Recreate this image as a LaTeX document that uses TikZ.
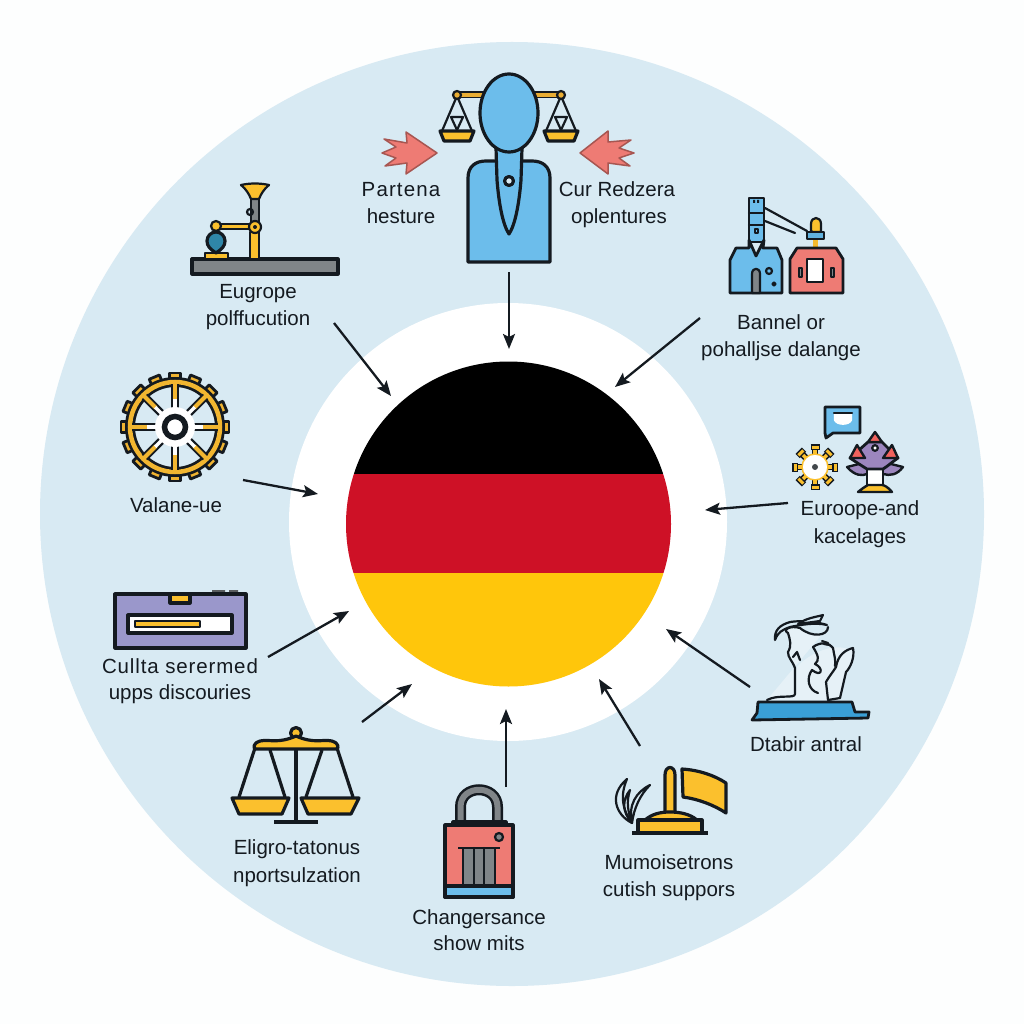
\documentclass[tikz,border=0pt]{standalone}
\usepackage{fontspec}
\setmainfont{Liberation Sans}
\usetikzlibrary{arrows.meta}
\definecolor{pagewhite}{HTML}{FDFEFE}
\definecolor{disc}{HTML}{D8EAF3}
\definecolor{ink}{HTML}{141A20}
\definecolor{sky}{HTML}{6CBDEB}
\definecolor{gold}{HTML}{FBC02D}
\definecolor{coral}{HTML}{EE7B74}
\definecolor{slate}{HTML}{808588}
\definecolor{violet}{HTML}{9A97CB}
\definecolor{lilac}{HTML}{9C86BE}
\definecolor{sea}{HTML}{3A9FD6}
\definecolor{teal}{HTML}{2F86A8}
\definecolor{flagred}{HTML}{CE1126}
\definecolor{flaggold}{HTML}{FFC60B}
\tikzset{
  caption/.style={font=\fontsize{20.5}{24}\selectfont, text=ink, inner sep=0pt, anchor=base},
  pointer/.style={draw=ink, line width=2.3pt, -{Stealth[length=15pt,width=12pt,inset=3pt]}},
  icon/.style={draw=ink, line width=3.2pt, line join=round},
  thin icon/.style={draw=ink, line width=2.2pt, line join=round, line cap=round}
}
\begin{document}
\begin{tikzpicture}[x=1pt,y=-1pt]
\useasboundingbox (0,0) rectangle (1024,1024);
\fill[pagewhite] (0,0) rectangle (1024,1024);
\fill[disc] (512,514) circle[radius=472];
\fill[white] (508,522) circle[radius=219];

% Tricolour roundel
\begin{scope}
  \clip (508.5,524) circle[radius=162.5];
  \fill[black] (340,355) rectangle (680,474);
  \fill[flagred] (340,474) rectangle (680,573);
  \fill[flaggold] (340,573) rectangle (680,695);
\end{scope}
\node[circle, minimum size=325pt, inner sep=0pt] (flag) at (508.5,524) {};

% Figure with balance
\draw[line width=7pt, draw=ink] (457,95) -- (561,95);
\draw[line width=3.5pt, draw=gold!70!brown] (457,95) -- (561,95);
\foreach \px/\sgn in {457/1,561/-1}{
  \draw[thin icon] (\px-15,131) -- (\px,96) -- (\px+15,131);
  \draw[thin icon] (\px-6,117) -- (\px,130) -- (\px+6,117) -- cycle;
  \draw[icon, fill=gold] (\px-17,131) -- (\px+17,131) -- (\px+13,141) -- (\px-13,141) -- cycle;
  \draw[thin icon, fill=gold!70!brown] (\px,95) circle[radius=4];
}
\draw[icon, fill=sky] (468,262) -- (468,178) .. controls (468,166) and (476,161) .. (486,161)
  -- (532,161) .. controls (542,161) and (550,166) .. (550,178) -- (550,262) -- cycle;
\draw[icon, fill=sky] (496,148) -- (497,180) .. controls (499,205) and (503,225) .. (509,234)
  .. controls (515,225) and (519,205) .. (521,180) -- (522,148) -- cycle;
\draw[icon, fill=sky] (509,113) ellipse[x radius=29, y radius=39];
\draw[icon, fill=disc] (509,181) circle[radius=4.5];

% Red arrows beside the figure
\draw[thin icon, draw=coral!70!black, fill=coral, line width=1.5pt] (437,153) -- (406,132) -- (407,143) -- (384,139)
  -- (396,147) -- (382,153) -- (396,158) -- (385,166) -- (407,163) -- (406,174) -- cycle;
\draw[thin icon, draw=coral!70!black, fill=coral, line width=1.5pt] (580,153) -- (608,131) -- (608,142) -- (631,140)
  -- (619,148) -- (634,153) -- (619,158) -- (630,166) -- (608,163) -- (608,174) -- cycle;

% Machine on a slab
\draw[icon, fill=slate] (192,259) rectangle (338,274);
\draw[thin icon, fill=gold] (205,253) rectangle (228,259);
\draw[icon, fill=teal] (216,253) .. controls (210,249) and (207,246) .. (207,241)
  .. controls (207,236) and (211,232) .. (216,232) .. controls (221,232) and (225,236) .. (225,241)
  .. controls (225,246) and (222,249) .. (216,253) -- cycle;
\draw[thin icon, fill=gold] (250,232) rectangle (259,259);
\draw[thin icon, fill=gold] (216,224) rectangle (250,229);
\draw[thin icon, fill=gold] (216,226) circle[radius=5];
\draw[thin icon, fill=slate] (251,199) rectangle (259,222);
\draw[thin icon] (250,212) circle[radius=3];
\draw[thin icon, fill=gold] (255,227) circle[radius=6];
\fill[ink] (255,227) circle[radius=2];
\draw[thin icon, fill=gold] (241,185) .. controls (250,183) and (260,183) .. (269,185)
  .. controls (264,189) and (261,194) .. (259,199) -- (251,199)
  .. controls (249,194) and (246,189) .. (241,185) -- cycle;

% Tower and house
\draw[thin icon] (765,208) -- (807,231);
\draw[thin icon] (765,221) -- (795,233);
\draw[thin icon, fill=sky, line width=2.6pt] (749,198) rectangle (764,242);
\draw[thin icon] (749,213) -- (764,213) (749,225) -- (764,225);
\draw[thin icon, line width=1.5pt] (755,229) rectangle (758,233);
\fill[ink] (753,200) rectangle (755,203) (757,200) rectangle (759,203);
\draw[icon, fill=sky, line width=2.8pt] (730,293) -- (730,260) -- (736,248) -- (749,248) -- (749,240) -- (756,256) -- (764,240) -- (763,248)
  -- (777,248) -- (782,260) -- (782,293) -- cycle;
\draw[thin icon, fill=slate] (752,293) -- (752,274) .. controls (752,267) and (760,267) .. (760,274) -- (760,293) -- cycle;
\draw[thin icon] (769,271) circle[radius=3];
\draw[thin icon] (774,284) circle[radius=1.5];
\draw[thin icon, fill=gold] (813,232) -- (811,231) -- (811,224) .. controls (811,216) and (821,216) .. (821,224) -- (821,232) -- cycle;
\fill[gold!90!brown] (813,239) rectangle (818,250);
\draw[thin icon, fill=sea!80!white] (807,232) rectangle (824,239);
\draw[icon, fill=coral, line width=2.8pt] (790,293) -- (790,259) -- (797,248) -- (836,248) -- (843,259) -- (843,293) -- cycle;
\draw[icon, fill=white, line width=2.8pt] (807,259) rectangle (823,282);
\draw[thin icon, fill=slate] (799,268) rectangle (802,277);
\draw[thin icon, fill=slate] (831,268) rectangle (834,277);

% Speech bubble, cog and rocket
\draw[icon, fill=sky, line width=2.8pt] (825,407) -- (860,407) -- (860,433) -- (833,433) -- (826,438) -- (825,433) -- cycle;
\draw[thin icon, fill=white, draw=white] (835,414) -- (851,414) -- (851,420) .. controls (849,425) and (837,425) .. (835,420) -- cycle;
\draw[thin icon] (834,413) -- (852,413);
\begin{scope}[shift={(815,467)}]
  \foreach \a in {0,45,...,315}{
    \begin{scope}[rotate=\a]
      \draw[draw=ink, line width=6.5pt] (0,0) -- (19,0);
      \draw[draw=gold, line width=3.5pt] (0,0) -- (19,0);
      \draw[draw=ink, line width=6pt] (20,-4.5) -- (20,4.5);
      \draw[draw=gold, line width=3pt] (20,-3.5) -- (20,3.5);
    \end{scope}
  }
  \fill[white] (0,0) circle[radius=13];
  \draw[draw=gold, line width=1.5pt] (0,0) circle[radius=13];
  \fill[ink!80!white] (0,0) circle[radius=3];
\end{scope}
\draw[icon, fill=lilac, line width=2.4pt] (847,467) .. controls (855,476) and (862,476) .. (867,474) -- (883,474)
  .. controls (890,476) and (897,475) .. (903,467) -- (883,462) -- (867,462) -- cycle;
\draw[icon, fill=white, line width=2.4pt] (867,468) rectangle (883,486);
\draw[icon, fill=lilac, line width=2.8pt] (850,458) -- (868,442) -- (882,442) -- (898,458) .. controls (892,462) and (888,466) .. (883,469)
  -- (867,469) .. controls (862,466) and (856,462) .. (850,458) -- cycle;
\draw[icon, fill=coral!80!red, line width=2.4pt] (875,432) -- (868,442) -- (882,442) -- cycle;
\draw[icon, fill=coral!80!red, line width=2.4pt] (857,445) -- (850,458) -- (865,458) -- cycle;
\draw[icon, fill=coral!80!red, line width=2.4pt] (892,445) -- (883,458) -- (898,458) -- cycle;
\draw[thin icon, fill=white] (875,448) circle[radius=2.8];
\draw[icon, fill=gold, line width=2.4pt] (858,492) .. controls (864,487) and (868,485) .. (868,485) -- (882,485)
  .. controls (884,485) and (888,487) .. (892,492) -- cycle;

% Spoked wheel
\begin{scope}[shift={(175,427)}]
  \foreach \a in {0,22.5,...,337.5}{
    \begin{scope}[rotate=\a]
      \draw[icon, fill=gold!80!brown, line width=2.8pt] (-5.5,-54) rectangle (5.5,-44);
    \end{scope}
  }
  \draw[draw=ink, line width=10pt] (0,0) circle[radius=45];
  \draw[draw=gold!85!brown, line width=4.5pt] (0,0) circle[radius=45];
  \foreach \a in {0,45,...,315}{
    \draw[draw=ink, line width=8pt] (0:0) -- (\a:43);
    \draw[draw=gold!85!brown, line width=4pt] (\a:27) -- (\a:45);
    \draw[draw=white, line width=3.5pt] (\a:15) -- (\a:28);
  }
  \fill[white] (0,0) circle[radius=20];
  \draw[draw=ink, line width=5.5pt] (0,0) circle[radius=10.5];
\end{scope}

% Card slot
\fill[slate!70!black] (212,590) rectangle (225,594) (229,590) rectangle (238,594);
\draw[icon, fill=violet] (115,594) rectangle (246,648);
\draw[icon, fill=gold] (170,594) rectangle (190,603);
\draw[icon, fill=white] (128,615) rectangle (232,633);
\draw[thin icon, fill=gold] (135,621) rectangle (200,627);

% Standing scales
\draw[icon] (296,750) -- (296,822);
\draw[icon] (274,822) -- (318,822);
\draw[icon] (255,748) -- (239,797);
\draw[icon] (270,750) -- (285,797);
\draw[icon] (322,750) -- (306,797);
\draw[icon] (337,748) -- (353,797);
\draw[icon, fill=gold] (296,733) circle[radius=5.5];
\draw[icon, fill=gold] (256,749) .. controls (252,749) and (254,742) .. (260,741)
  .. controls (270,739) and (278,744) .. (296,736) .. controls (314,744) and (322,739) .. (332,741)
  .. controls (338,742) and (340,749) .. (336,749) -- cycle;
\draw[icon, fill=gold] (232,798) -- (289,798) -- (282,814) -- (239,814) -- cycle;
\draw[icon, fill=gold] (301,798) -- (359,798) -- (351,814) -- (308,814) -- cycle;

% Padlock
\draw[draw=ink, line width=11pt] (460.5,822) -- (460.5,807) .. controls (460.5,784) and (497.5,784) .. (497.5,807) -- (497.5,822);
\draw[draw=slate, line width=6pt] (460.5,822) -- (460.5,807) .. controls (460.5,784) and (497.5,784) .. (497.5,807) -- (497.5,822);
\draw[icon, fill=slate!60!black] (453,822) rectangle (506,825);
\draw[icon, fill=coral] (445,825) rectangle (513,897);
\draw[icon, fill=sky] (445,886) rectangle (513,897);
\draw[thin icon, fill=slate] (463,848) rectangle (495,885);
\draw[thin icon] (474,848) -- (474,885) (484,848) -- (484,885);
\draw[icon, line width=2.4pt] (458,848) -- (500,848);
\draw[thin icon, fill=slate] (499,837) circle[radius=4];

% Flag on a plinth with leaves
\draw[thin icon] (632,823) .. controls (616,815) and (608,795) .. (627,779)
  .. controls (620,795) and (622,810) .. (632,823) -- cycle;
\draw[thin icon] (632,823) .. controls (622,812) and (622,800) .. (630,790)
  .. controls (626,802) and (628,812) .. (632,823) -- cycle;
\draw[thin icon] (632,823) .. controls (628,805) and (636,792) .. (650,785)
  .. controls (640,795) and (634,808) .. (632,823) -- cycle;
\draw[icon, fill=gold] (665,816) -- (665,775) .. controls (665,765) and (675,765) .. (675,775) -- (675,816) -- cycle;
\draw[icon, fill=gold] (645,820) .. controls (652,814) and (660,812) .. (670,812)
  .. controls (680,812) and (690,814) .. (697,820) -- cycle;
\draw[icon, fill=gold] (638,820) rectangle (702,833);
\draw[icon] (632,833) -- (708,833);
\draw[icon, fill=gold] (682,769) .. controls (698,770) and (714,775) .. (726,783) -- (726,813)
  .. controls (714,805) and (698,799) .. (683,797) -- cycle;

% Statue on a blue base
\fill[disc!65!white] (768,700) .. controls (780,695) and (795,697) .. (795,690) -- (795,670) .. controls (800,660) and (830,640) .. (850,650) -- (840,700) -- cycle;
\draw[icon, fill=sea, line width=2.8pt] (758,702) -- (852,702) -- (855,712) -- (869,712) -- (868,718) -- (752,720) -- (757,713) -- cycle;
\draw[thin icon, fill=disc!65!white] (767,700) .. controls (778,694) and (795,699) .. (795,694) -- (795,668)
  .. controls (792,660) and (788,658) .. (788,652) .. controls (792,645) and (790,640) .. (788,633)
  .. controls (782,630) and (790,625) .. (800,628) .. controls (812,638) and (828,636) .. (828,627);
\draw[thin icon, fill=disc] (775,640) .. controls (774,630) and (780,625) .. (790,622)
  .. controls (802,620) and (818,622) .. (827,625) .. controls (815,622) and (800,625) .. (790,627)
  .. controls (782,630) and (778,632) .. (775,640) -- cycle;
\draw[thin icon, fill=disc] (798,624) .. controls (806,618) and (816,617) .. (823,615) -- (820,621) -- cycle;
\draw[thin icon] (793,657) -- (797,652) -- (800,660);
\draw[thin icon] (813,647) .. controls (818,655) and (820,660) .. (815,664)
  .. controls (824,668) and (822,678) .. (812,670) .. controls (806,678) and (808,690) .. (818,693);
\draw[thin icon] (813,647) .. controls (820,642) and (828,642) .. (833,648)
  .. controls (834,655) and (836,660) .. (835,666);
\draw[thin icon] (822,641) -- (828,643) (824,644) -- (830,645);
\draw[thin icon, fill=disc!65!white] (836,667) .. controls (838,655) and (845,650) .. (853,648)
  .. controls (855,658) and (850,668) .. (846,672) -- (840,698) -- (828,700) -- (826,682)
  .. controls (830,675) and (833,672) .. (836,667) -- cycle;

% Captions, placed by baseline
\node[caption] (l1a) at (401,197) {\addfontfeature{LetterSpace=5.5}Partena};
\node[caption] (l1b) at (401,224) {hesture};
\node[caption] (l2a) at (617,197) {Cur Redzera};
\node[caption] (l2b) at (619,224) {oplentures};
\node[caption] (l3a) at (258,298) {Eugrope};
\node[caption] (l3b) at (258,325) {polffucution};
\node[caption] (l4a) at (781,329) {Bannel or};
\node[caption] (l4b) at (781,356) {pohalljse dalange};
\node[caption] (l5a) at (860,515) {Euroope-and};
\node[caption] (l5b) at (860,543) {kacelages};
\node[caption] (l6) at (176,512) {Valane-ue};
\node[caption] (l7a) at (180,673) {\addfontfeature{LetterSpace=4.2}Cullta serermed};
\node[caption] (l7b) at (180,699) {upps discouries};
\node[caption] (l8) at (806,751) {Dtabir antral};
\node[caption] (l9a) at (297,854) {Eligro-tatonus};
\node[caption] (l9b) at (297,882) {nportsulzation};
\node[caption] (l10a) at (479,924) {Changersance};
\node[caption] (l10b) at (479,950) {show mits};
\node[caption] (l11a) at (669,869) {Mumoisetrons};
\node[caption] (l11b) at (669,896) {cutish suppors};

% Pointers running towards the roundel
\coordinate (p1s) at (509,272);   \coordinate (p1e) at (509,349);
\coordinate (p2s) at (334,323);   \coordinate (p2e) at (391,396);
\coordinate (p3s) at (700,318);   \coordinate (p3e) at (615,387);
\coordinate (p4s) at (243,480);   \coordinate (p4e) at (318,494);
\coordinate (p5s) at (788,503);   \coordinate (p5e) at (705,510);
\coordinate (p6s) at (268,657);   \coordinate (p6e) at (349,611);
\coordinate (p7s) at (750,687);   \coordinate (p7e) at (666,629);
\coordinate (p8s) at (362,722);   \coordinate (p8e) at (412,684);
\coordinate (p9s) at (506,787);   \coordinate (p9e) at (506,709);
\coordinate (p10s) at (640,746);  \coordinate (p10e) at (599,679);
\foreach \n in {1,...,10}{ \draw[pointer] (p\n s) -- (p\n e); }
\end{tikzpicture}
\end{document}
